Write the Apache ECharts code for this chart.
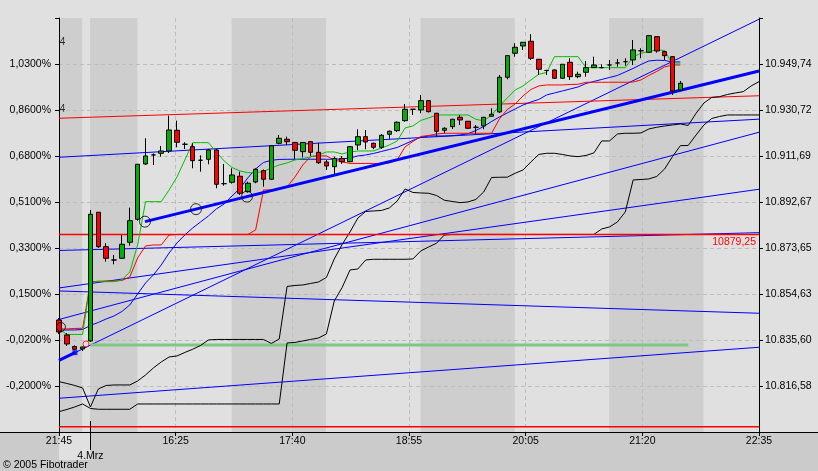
<!DOCTYPE html>
<html><head><meta charset="utf-8">
<script src="https://cdn.jsdelivr.net/npm/echarts/dist/echarts.min.js"></script>
<style>html,body{margin:0;padding:0;background:#e0e0e0}#c{width:818px;height:471px}</style>
</head><body><div id="c"></div>
<script>
// ---------- data ----------
const times = ['21:45','21:50','21:55','22:00',
'15:30','15:35','15:40','15:45','15:50','15:55',
'16:00','16:05','16:10','16:15','16:20','16:25','16:30','16:35','16:40','16:45','16:50','16:55',
'17:00','17:05','17:10','17:15','17:20','17:25','17:30','17:35','17:40','17:45','17:50','17:55',
'18:00','18:05','18:10','18:15','18:20','18:25','18:30','18:35','18:40','18:45','18:50','18:55',
'19:00','19:05','19:10','19:15','19:20','19:25','19:30','19:35','19:40','19:45','19:50','19:55',
'20:00','20:05','20:10','20:15','20:20','20:25','20:30','20:35','20:40','20:45','20:50','20:55',
'21:00','21:05','21:10','21:15','21:20','21:25','21:30','21:35','21:40','21:45','21:50','21:55',
'22:00','22:05','22:10','22:15','22:20','22:25','22:30','22:35'];
const timeLabels = ['21:45','16:25','17:40','18:55','20:05','21:20','22:35'];
const leftLabels = ['','-0,2000%','-0,0200%','0,1500%','0,3300%','0,5100%','0,6800%','0,8600%','1,0300%',''];
const rightLabels = ['','10.816,58','10.835,60','10.854,63','10.873,65','10.892,67','10.911,69','10.930,72','10.949,74',''];

const opens = [10843.88,10837.68,10832.92,10831.89,10835.20,10888.41,10874.19,10868.69,10869.39,10876.01,
10885.52,10908.39,10912.11,10912.81,10913.76,10922.32,10916.53,10915.54,10909.92,10910.33,
10914.18,10900.24,10900.82,10903.30,10896.93,10900.94,10905.61,10902.06,10916.95,10918.60,
10917.28,10913.47,10917.61,10913.22,10909.21,10907.27,10910.66,10909.34,10916.24,10919.68,
10916.95,10915.29,10920.67,10922.16,10926.29,10931.00,10930.72,10934.56,10929.35,10922.32,
10923.81,10927.70,10926.04,10923.56,10924.10,10928.11,10929.89,10944.24,10954.16,10957.18,
10959.12,10951.68,10947.05,10947.26,10943.82,10950.44,10944.49,10946.30,10948.21,10948.21,
10949.32,10950.15,10950.69,10951.39,10955.19,10954.57,10961.02,10954.82,10952.75,10938.99];
const closes = [10838.92,10833.96,10831.76,10832.72,10887.59,10874.19,10869.39,10868.69,10875.18,10884.94,
10908.26,10911.69,10912.11,10913.76,10922.44,10917.36,10916.53,10909.75,10909.92,10914.18,
10899.99,10900.24,10903.84,10896.27,10900.41,10906.19,10902.06,10915.95,10919.01,10917.61,
10914.05,10917.28,10913.22,10908.92,10907.56,10910.66,10909.34,10915.54,10919.68,10917.48,
10915.29,10920.25,10921.91,10925.63,10931.00,10931.00,10934.56,10930.01,10921.91,10923.15,
10926.87,10926.58,10923.15,10923.56,10927.70,10928.94,10944.24,10953.17,10956.64,10958.71,
10952.09,10947.54,10947.05,10943.82,10949.61,10944.49,10945.48,10948.21,10949.32,10948.21,
10949.32,10950.15,10950.69,10955.53,10955.19,10961.44,10955.11,10953.17,10938.57,10941.76];
const lows = [10838.09,10833.13,10831.47,10831.06,10834.79,10873.65,10867.99,10866.91,10869.10,10874.60,
10884.94,10907.97,10907.97,10911.41,10912.93,10915.29,10914.59,10906.61,10905.20,10908.26,
10898.34,10899.41,10900.24,10895.57,10896.52,10900.41,10899.00,10901.77,10916.53,10916.24,
10910.25,10911.07,10911.69,10908.39,10905.90,10904.25,10908.39,10909.09,10914.18,10914.47,
10914.47,10914.59,10918.85,10921.62,10925.88,10928.65,10929.35,10929.68,10919.68,10921.08,
10922.86,10924.51,10922.86,10920.79,10922.73,10927.95,10929.48,10943.41,10952.75,10955.53,
10951.39,10945.19,10945.19,10943.53,10943.53,10943.12,10943.82,10944.49,10948.08,10947.96,
10947.26,10948.62,10949.03,10949.32,10952.09,10954.28,10954.41,10951.39,10936.92,10938.57];
const highs = [10844.71,10838.50,10833.34,10832.92,10889.36,10888.54,10875.60,10870.76,10879.03,10890.32,
10908.39,10919.01,10912.73,10915.83,10928.36,10926.29,10917.36,10916.95,10911.98,10914.59,
10914.59,10908.39,10906.61,10905.20,10901.07,10906.61,10906.12,10916.24,10920.38,10919.68,
10917.48,10917.48,10917.90,10917.19,10910.04,10911.41,10911.69,10915.83,10922.73,10922.44,
10917.19,10920.79,10922.24,10925.96,10933.20,10931.13,10936.92,10934.85,10929.48,10923.56,
10927.00,10928.65,10926.17,10924.51,10927.82,10931.42,10945.19,10953.25,10958.30,10958.83,
10962.06,10951.80,10947.26,10947.46,10949.74,10952.09,10946.55,10950.98,10952.75,10949.61,
10951.39,10951.80,10952.09,10959.66,10956.23,10961.52,10961.11,10955.11,10953.04,10942.71];

const greenLine = [10840.17,10837.89,10837.89,10837.89,10859.60,10859.72,10859.72,10859.72,10860.43,10863.73,
10874.90,10892.80,10892.80,10892.80,10897.64,10903.01,10910.04,10917.20,10917.20,10917.20,
10913.35,10909.63,10906.94,10905.49,10904.79,10904.79,10905.29,10906.74,10907.98,10908.80,
10910.04,10910.66,10911.28,10912.11,10913.35,10913.35,10912.52,10913.35,10913.76,10913.76,
10913.76,10915.00,10916.25,10917.90,10923.27,10924.10,10926.38,10927.41,10928.65,10928.65,
10928.65,10928.65,10928.65,10926.87,10926.17,10928.65,10932.37,10935.68,10938.99,10940.64,
10943.12,10945.48,10946.22,10952.76,10952.76,10952.76,10952.76,10948.21,10948.21,10948.21,
10948.21,10948.21,10948.21,10952.63,10954.16,10954.91,10955.53,10955.32,10949.74,10949.74];
const redLine = [10840.17,10840.17,10840.37,10840.45,10859.60,10859.89,10860.01,10860.01,10860.22,10861.67,
10869.52,10874.48,10874.90,10874.90,10879.03,10879.25,10879.25,10879.25,10879.25,10879.25,
10879.25,10879.25,10879.25,10879.25,10879.25,10881.10,10897.64,10897.64,10898.05,10898.88,
10903.01,10907.98,10911.49,10911.70,10911.70,10910.04,10909.22,10908.60,10908.60,10908.60,
10908.60,10908.60,10908.80,10910.04,10915.42,10917.69,10919.76,10920.17,10920.79,10921.08,
10921.08,10921.08,10921.08,10921.08,10921.08,10921.08,10927.00,10930.92,10933.20,10936.51,
10939.19,10940.64,10941.05,10941.05,10941.05,10941.26,10941.34,10942.17,10942.17,10942.17,
10942.17,10942.17,10942.17,10942.29,10943.12,10944.98,10946.64,10948.50,10949.32,10949.32];
const maLine = [10839.75,10839.75,10839.75,10839.96,10841.61,10842.85,10844.30,10845.54,10847.40,10850.09,
10854.64,10859.18,10862.49,10866.63,10871.59,10875.72,10879.03,10881.93,10884.41,10886.89,
10889.78,10891.85,10895.16,10898.26,10902.60,10906.32,10909.01,10909.92,10910.25,10910.33,
10910.33,10910.33,10910.33,10910.33,10910.33,10910.33,10910.46,10910.87,10911.70,10912.11,
10912.73,10913.56,10914.38,10915.21,10916.66,10918.11,10919.43,10919.97,10919.97,10919.97,
10920.09,10920.38,10920.88,10922.24,10923.89,10925.96,10927.82,10929.48,10931.13,10932.78,
10934.02,10935.06,10936.92,10937.75,10938.57,10939.40,10940.23,10941.67,10942.50,10943.33,
10944.15,10944.98,10946.43,10947.88,10949.53,10950.98,10951.27,10951.18,10950.56,10950.56];
const blackA = [10818.37,10817.63,10816.80,10815.77,10807.91,10815.36,10816.80,10817.01,10817.01,10817.01,
10818.66,10821.14,10824.04,10826.52,10828.59,10829.00,10830.45,10831.77,10833.34,10835.62,
10835.82,10835.82,10835.82,10835.82,10835.82,10835.82,10835.82,10834.17,10836.03,10857.74,
10858.15,10858.36,10858.98,10859.60,10861.46,10869.11,10875.10,10880.27,10886.06,10888.75,
10888.96,10889.16,10890.20,10893.09,10898.05,10896.60,10896.40,10896.27,10895.36,10893.38,
10892.88,10892.39,10892.68,10893.71,10896.81,10902.81,10902.89,10902.93,10904.54,10905.91,
10909.22,10912.32,10912.81,10912.81,10912.32,10911.70,10911.41,10911.90,10912.94,10917.90,
10917.90,10920.79,10921.08,10921.08,10921.21,10922.86,10923.56,10924.10,10924.51,10924.93,
10924.31,10929.35,10933.61,10935.89,10936.22,10937.13,10937.75,10938.28,10940.64,10942.42];
const blackB = [10805.97,10806.88,10807.91,10809.15,10807.29,10806.96,10806.96,10806.96,10806.96,10806.96,
10809.15,10809.15,10809.15,10809.15,10809.15,10809.15,10809.15,10809.15,10809.15,10809.15,
10809.15,10809.15,10809.15,10809.15,10809.15,10809.15,10809.15,10809.15,10809.15,10834.38,
10834.58,10835.20,10835.82,10836.44,10838.10,10851.74,10857.32,10864.56,10864.97,10868.70,
10868.98,10868.98,10868.98,10868.98,10868.98,10869.11,10872.42,10874.07,10875.60,10879.03,
10879.25,10879.25,10879.25,10879.25,10879.25,10879.25,10879.25,10879.25,10879.25,10879.25,
10879.25,10879.25,10879.25,10879.25,10879.25,10879.25,10879.25,10879.25,10879.25,10881.51,
10882.34,10884.41,10888.54,10901.77,10901.98,10902.19,10903.22,10906.32,10911.41,10915.96,
10916.04,10920.38,10924.51,10927.20,10928.03,10928.65,10928.65,10928.65,10928.65,10928.65];

// straight lines: [bar index, price]
const blueTrendLines = [
  [[0,10827.14],[89,10968.22]],
  [[0,10911.16],[89,10926.91]],
  [[0,10872.62],[89,10879.98]],
  [[0,10857.12],[89,10897.93]],
  [[0,10855.88],[89,10846.66]],
  [[0,10844.09],[89,10921.50]],
  [[0,10811.51],[89,10832.60]]
];
const thickTrend = [[10.93,10884.53],[89,10946.84]];
const thickStub = [[0,10827.14],[2.03,10830.37]];
const redSloped = [[0,10927.29],[89,10936.59]];
const redLevels = [10879.25, 10799.77];
const greenLevel = [[4,10833.55],[80,10833.55]];
const anchorCircles = [[10.93,10884.53],[17.42,10889.70],[23.9,10894.87]];
const startCircle = [[0.25,10840.99]];
const redDot = [[3.43,10833.96]];
const blueSquare = [[2.03,10830.37]];
const fibMarks = [[0.45,10958.83],[0.45,10931.13]];
const sessionBands = [[0,2.95],[3.95,9.95],[21.95,33.95],[45.95,57.95],[69.95,81.95]];

// ---------- chart ----------
const Y0 = 10797.56, STEP = 19.02, YMAX = 171.18;
const P = v => +(v - Y0).toFixed(4);
const FONT = 'Liberation Sans, Arial, sans-serif';
const candleData = opens.map((o,i)=>[P(o),P(closes[i]),P(lows[i]),P(highs[i])]);
const seg = pts => pts.map(([x,v]) => [x, P(v)]);
const perBar = arr => arr.map(P);
const ln = (data, color, width, xi, z) => ({type:'line', data, xAxisIndex:xi, yAxisIndex:0, symbol:'none',
  showSymbol:false, silent:true, z:z||3, lineStyle:{color, width}, emphasis:{disabled:true}});

const series = [
  {type:'custom', xAxisIndex:1, yAxisIndex:0, z:0, silent:true, data:sessionBands,
   renderItem(params, api){
     const x0 = api.coord([api.value(0), 0])[0];
     const x1 = api.coord([api.value(1), 0])[0];
     const cs = params.coordSys;
     return {type:'rect', shape:{x:x0, y:cs.y, width:x1-x0, height:cs.height}, style:{fill:'#cecece'}};
   }},
  ...blueTrendLines.map(l => ln(seg(l), '#0000ff', 1, 1)),
  ln(seg(redSloped), '#ff0000', 1, 1),
  ln(seg(greenLevel), '#80c880', 3, 1),
  ln(perBar(blackA), '#000000', 1, 0),
  ln(perBar(blackB), '#000000', 1, 0),
  ...redLevels.map(v => ln([[0,P(v)],[89,P(v)]], '#ff0000', 1.5, 1, 3.5)),
  ln(perBar(maLine), '#0000ff', 1, 0, 3.6),
  ln(perBar(redLine), '#ff0000', 1, 0, 3.6),
  ln(perBar(greenLine), '#00c000', 1, 0, 3.6),
  ln(seg(thickTrend), '#0000ff', 3, 1, 4),
  ln(seg(thickStub), '#0000ff', 3, 1, 4),
  {type:'candlestick', xAxisIndex:0, yAxisIndex:0, data:candleData, barWidth:5, silent:true, z:5,
   itemStyle:{color:'#00b000', color0:'#ff0000', borderColor:'#000', borderColor0:'#000', borderColorDoji:'#000', borderWidth:1}},
  {type:'scatter', xAxisIndex:1, yAxisIndex:0, data:seg(anchorCircles), symbol:'circle', symbolSize:11, silent:true, z:6,
   itemStyle:{color:'rgba(0,0,0,0)', borderColor:'#000', borderWidth:1}},
  {type:'scatter', xAxisIndex:1, yAxisIndex:0, data:seg(startCircle), symbol:'circle', symbolSize:9, silent:true, z:6,
   itemStyle:{color:'rgba(0,0,0,0)', borderColor:'#000', borderWidth:1}},
  {type:'scatter', xAxisIndex:1, yAxisIndex:0, data:seg(redDot), symbol:'circle', symbolSize:6, silent:true, z:6,
   itemStyle:{color:'rgba(0,0,0,0)', borderColor:'#ff0000', borderWidth:1}},
  {type:'scatter', xAxisIndex:1, yAxisIndex:0, data:seg(blueSquare), symbol:'rect', symbolSize:5, silent:true, z:6,
   itemStyle:{color:'#0000ff'}},
  {type:'scatter', xAxisIndex:1, yAxisIndex:0, data:seg(fibMarks), symbolSize:1, silent:true, z:6,
   itemStyle:{color:'rgba(0,0,0,0)'},
   label:{show:true, position:'inside', formatter:'4', color:'#000', fontFamily:FONT, fontSize:10}}
];

const splitStyle = {color:'#bdbdbd', type:[4,3], width:1};
const option = {
  animation:false,
  backgroundColor:'#e0e0e0',
  grid:{left:59, right:59, top:18, bottom:39, containLabel:false, outerBoundsMode:'none'},
  xAxis:[
    {type:'category', data:times, boundaryGap:false, show:false, position:'bottom',
     axisLine:{show:false}, axisTick:{show:false}, axisLabel:{show:false}, splitLine:{show:false}},
    {type:'value', min:0, max:89, show:false, position:'bottom',
     axisLine:{show:false}, axisTick:{show:false}, axisLabel:{show:false}, splitLine:{show:false}},
    {type:'value', min:0, max:6, interval:1, position:'bottom', z:1,
     axisLine:{show:true, onZero:false, lineStyle:{color:'#000', width:1}},
     axisTick:{show:true, length:4, lineStyle:{color:'#000'}},
     axisLabel:{margin:4, color:'#000', fontFamily:FONT, fontSize:10.5, showMinLabel:true, showMaxLabel:true,
       formatter:v => timeLabels[Math.round(v)] || ''},
     splitLine:{show:true, showMinLine:false, showMaxLine:false, lineStyle:splitStyle}}
  ],
  yAxis:[
    {type:'value', position:'right', min:0, max:YMAX, interval:STEP, z:1,
     axisLine:{show:true, onZero:false, lineStyle:{color:'#000', width:1}},
     axisTick:{show:true, length:4, lineStyle:{color:'#000'}},
     axisLabel:{margin:6, color:'#000', fontFamily:FONT, fontSize:10.5,
       formatter:v => rightLabels[Math.round(v/STEP)] || ''},
     splitLine:{show:true, showMinLine:false, showMaxLine:false, lineStyle:splitStyle}},
    {type:'value', position:'left', min:0, max:YMAX, interval:STEP, z:1,
     axisLine:{show:true, onZero:false, lineStyle:{color:'#000', width:1}},
     axisTick:{show:true, length:4, lineStyle:{color:'#000'}},
     axisLabel:{margin:8, color:'#000', fontFamily:FONT, fontSize:10.5,
       formatter:v => leftLabels[Math.round(v/STEP)] || ''},
     splitLine:{show:false}}
  ],
  series
};

const chart = echarts.init(document.getElementById('c'), null, {renderer:'canvas', width:818, height:471});
chart.setOption(option);

const gp = (x, v) => chart.convertToPixel({xAxisIndex:1, yAxisIndex:0}, [x, P(v)]);
const [xL, yB] = gp(0, Y0);
const [xDay] = gp(4, Y0);
const [xR, yLvl] = gp(89, redLevels[0]);
const txt = (s, x, y, align, color, size) => ({type:'text', z:10, silent:true, x, y,
  style:{text:s, fill:color||'#000', font:(size||10.5)+'px '+FONT, align:align, textAlign:align, verticalAlign:'middle', textVerticalAlign:'middle'}});
chart.setOption({graphic:[
  {type:'rect', z:0, silent:true, shape:{x:0, y:yB, width:818, height:471-yB}, style:{fill:'#cbcbcb'}},
  {type:'rect', z:0, silent:true, shape:{x:xL, y:yB, width:xDay-xL, height:28}, style:{fill:'#e0e0e0'}},
  {type:'line', z:10, silent:true, shape:{x1:0, y1:Math.round(yB)+0.5, x2:818, y2:Math.round(yB)+0.5}, style:{stroke:'#000', lineWidth:1}},
  {type:'line', z:10, silent:true, shape:{x1:Math.round(xDay)+0.5, y1:yB-11, x2:Math.round(xDay)+0.5, y2:yB+18}, style:{stroke:'#000', lineWidth:1}},
  txt('4.Mrz', xDay, yB+24, 'center'),
  txt('\u00A9 2005 Fibotrader', 3, 465, 'left'),
  txt(redLevels[0].toFixed(2).replace('.', ','), xR-3, yLvl+7.5, 'right', '#ff0000')
]});
</script>
</body></html>
